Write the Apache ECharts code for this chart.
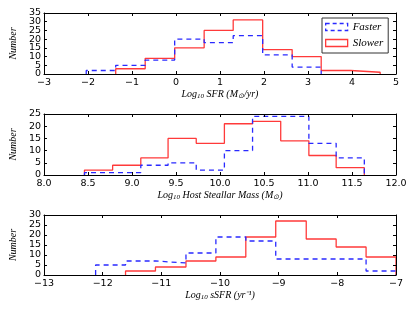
<!DOCTYPE html>
<html><head><meta charset="utf-8">
<script src="https://cdn.jsdelivr.net/npm/echarts@6/dist/echarts.min.js"></script>
<style>html,body{margin:0;padding:0;background:#fff}#c{width:415px;height:312px}</style>
</head><body><div id="c"></div>
<script>
const sfrEdges = [-2.04,-1.37,-0.70,-0.03,0.64,1.30,1.97,2.64,3.30,3.97,4.64];
const sfrFaster = [2,5,8,20,18,22,11,4,0,0];
const sfrSlower = [0,3,9,15,25,31,14,10,2,1];

const massEdges = [8.46,8.78,9.10,9.41,9.73,10.05,10.37,10.69,11.01,11.32,11.64];
const massFaster = [1,1,4,5,2,10,24,24,13,7];
const massSlower = [2,4,7,15,13,21,22,14,8,3];

const ssfrEdges = [-12.12,-11.61,-11.10,-10.58,-10.07,-9.56,-9.05,-8.53,-8.02,-7.51,-7.00];
const ssfrFaster = [5,7,6,11,19,17,8,8,8,2];
const ssfrSlower = [0,2,4,7,9,19,27,18,14,9];

const yTicks1 = [0,5,10,15,20,25,30,35];
const yTicks2 = [0,5,10,15,20,25];
const yTicks3 = [0,5,10,15,20,25,30];

const seriesNames = ['Faster','Slower'];

// step outline; zero-height bins at the ends lie on the spine (hidden in the original)
function stepPts(edges, counts){
  let a=0, b=counts.length-1;
  while(a<b && counts[a]===0) a++;
  while(b>a && counts[b]===0) b--;
  const p = [[edges[a],0]];
  for(let i=a;i<=b;i++){ p.push([edges[i],counts[i]]); p.push([edges[i+1],counts[i]]); }
  p.push([edges[b+1],0]);
  return p;
}
const BLUE='#2a2aff', RED='#ff3a3a';
const tickFont={fontFamily:'DejaVu Sans',fontSize:9.5,color:'#000'};
const minus = v => String(v).replace('-','\u2212');
const grids=[{top:13,height:61},{top:114,height:61},{top:215,height:60}].map(g=>({left:35,right:19,top:g.top,height:g.height}));
const xr=[{min:-3,max:5,interval:1,fmt:v=>minus(v)},{min:8,max:12,interval:0.5,fmt:v=>v.toFixed(1)},{min:-13,max:-7,interval:1,fmt:v=>minus(v)}];
const yTicks=[yTicks1,yTicks2,yTicks3];
const nameRich={
  i:{fontFamily:'Liberation Serif',fontStyle:'italic',fontSize:10,color:'#000'},
  s:{fontFamily:'Liberation Serif',fontStyle:'italic',fontSize:7,color:'#000',padding:[5,0,0,0]}
};
const xNames=['{i|Log}{s|10}{i| SFR (M}{s|\u2299}{i|/yr)}','{i|Log}{s|10}{i| Host Steallar Mass (M}{s|\u2299}{i|)}','{i|Log}{s|10}{i| sSFR (yr\u207B\u00B9)}'];
const xAxes=[], yAxes=[];
const yIdx=[];
for(let k=0;k<3;k++){
  const base={type:'value',gridIndex:k,min:xr[k].min,max:xr[k].max,interval:xr[k].interval,z:10,
    axisLine:{show:true,onZero:false,lineStyle:{color:'#000',width:1}},
    axisTick:{show:true,inside:true,length:3,lineStyle:{color:'#000'}},splitLine:{show:false}};
  xAxes.push(Object.assign({},base,{position:'bottom',axisLabel:Object.assign({formatter:xr[k].fmt,margin:4},tickFont),
    name:xNames[k],nameLocation:'middle',nameGap:14,nameTextStyle:{rich:nameRich}}));
  xAxes.push(Object.assign({},base,{position:'top',axisLabel:{show:false}}));
  const tk=yTicks[k];
  const ymax=tk[tk.length-1];
  const yb={type:'value',gridIndex:k,min:0,max:ymax,interval:5,z:10,
    axisLine:{show:true,onZero:false,lineStyle:{color:'#000',width:1}},
    axisTick:{show:true,inside:true,length:3,lineStyle:{color:'#000'}},splitLine:{show:false}};
  yIdx.push(yAxes.length);
  // main left axis: line, ticks, even labels
  yAxes.push(Object.assign({},yb,{position:'left',
    axisLabel:Object.assign({margin:3,customValues:tk.filter((v,i)=>i%2===0)},tickFont),
    name:'Number',nameLocation:'middle',nameGap:19,nameTextStyle:{fontFamily:'Liberation Serif',fontStyle:'italic',fontSize:10,color:'#000'}}));
  // second left axis: odd labels only
  yAxes.push(Object.assign({},yb,{position:'left',axisLine:{show:false},axisTick:{show:false},
    axisLabel:Object.assign({margin:3,customValues:tk.filter((v,i)=>i%2===1)},tickFont)}));
  yAxes.push(Object.assign({},yb,{position:'right',axisLabel:{show:false}}));
}
const data=[[sfrFaster,sfrSlower,sfrEdges],[massFaster,massSlower,massEdges],[ssfrFaster,ssfrSlower,ssfrEdges]];
const series=[];
for(let k=0;k<3;k++){
  series.push({name:seriesNames[0],type:'line',xAxisIndex:2*k,yAxisIndex:yIdx[k],data:stepPts(data[k][2],data[k][0]),
    showSymbol:false,symbol:'none',lineStyle:{color:BLUE,width:1.3,type:[5,4]},itemStyle:{color:BLUE},z:3,silent:true,animation:false});
  series.push({name:seriesNames[1],type:'line',xAxisIndex:2*k,yAxisIndex:yIdx[k],data:stepPts(data[k][2],data[k][1]),
    showSymbol:false,symbol:'none',lineStyle:{color:RED,width:1.3},itemStyle:{color:RED},z:2,silent:true,animation:false});
}
const chart=echarts.init(document.getElementById('c'),null,{renderer:'canvas'});
chart.setOption({
  animation:false,
  grid:grids,xAxis:xAxes,yAxis:yAxes,series:series,
  legend:{orient:'vertical',left:322,top:18,width:70,padding:[3,5,4,3],itemGap:4,itemWidth:22,itemHeight:7,z:20,
    backgroundColor:'#fff',borderColor:'#333',borderWidth:1,selectedMode:false,
    textStyle:{fontFamily:'Liberation Serif',fontStyle:'italic',fontSize:11,color:'#000',lineHeight:12},
    data:[
      {name:'Faster',icon:'rect',itemStyle:{color:'rgba(0,0,0,0)',borderColor:BLUE,borderWidth:1.3,borderType:[4,3]}},
      {name:'Slower',icon:'rect',itemStyle:{color:'rgba(0,0,0,0)',borderColor:RED,borderWidth:1.3}}
    ]}
});
</script></body></html>
